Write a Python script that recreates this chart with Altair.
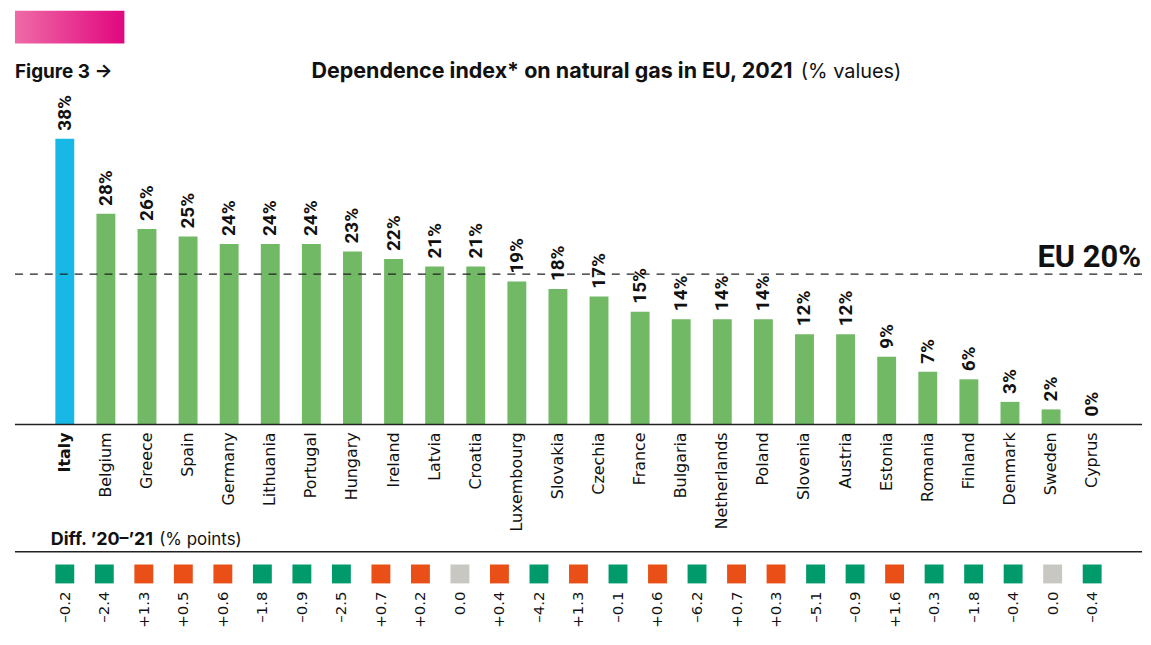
import altair as alt
import pandas as pd

countries = ["Italy", "Belgium", "Greece", "Spain", "Germany", "Lithuania", "Portugal",
             "Hungary", "Ireland", "Latvia", "Croatia", "Luxembourg", "Slovakia", "Czechia",
             "France", "Bulgaria", "Netherlands", "Poland", "Slovenia", "Austria", "Estonia",
             "Romania", "Finland", "Denmark", "Sweden", "Cyprus"]
index_2021 = [38, 28, 26, 25, 24, 24, 24, 23, 22, 21, 21, 19, 18, 17, 15, 14, 14, 14,
              12, 12, 9, 7, 6, 3, 2, 0]
diff_20_21 = [-0.2, -2.4, 1.3, 0.5, 0.6, -1.8, -0.9, -2.5, 0.7, 0.2, 0.0, 0.4, -4.2, 1.3,
              -0.1, 0.6, -6.2, 0.7, 0.3, -5.1, -0.9, 1.6, -0.3, -1.8, -0.4, 0.0, -0.4]
eu_average = 20

W, H = 1133, 619
Y_MIN, Y_MAX = -26.852, 55.026
X_MIN, X_MAX = -1.0917, 26.092

GREEN_BAR = "#72B965"
BLUE = "#17B8E6"
SQ_GREEN = "#009A6B"
SQ_ORANGE = "#E94F16"
SQ_GRAY = "#C8C7C1"
INK = "#111111"

bars_df = pd.DataFrame({"country": countries, "value": index_2021,
                        "idx": list(range(len(countries)))})
bars_df["zero"] = 0
bars_df["lbl"] = [str(v) + "%" for v in index_2021]
bars_df["fill"] = ["Italy" if c == "Italy" else "other" for c in countries]
diff_df = pd.DataFrame({"i": list(range(len(diff_20_21))), "diff": diff_20_21})
diff_df["pos"] = diff_df["i"] * (len(countries) - 1) / (len(diff_20_21) - 1)
diff_df["sign"] = ["pos" if d > 0 else ("neg" if d < 0 else "zero") for d in diff_20_21]
diff_df["lbl"] = [("+%.1f" % d) if d > 0 else (("\u2013%.1f" % -d) if d < 0 else "0.0")
                  for d in diff_20_21]
ref_df = pd.DataFrame({"zero": [0], "eu": [eu_average], "t": ["EU %d%%" % eu_average]})
one = pd.DataFrame({"k": [0]})

xs = alt.Scale(domain=[X_MIN, X_MAX], nice=False, zero=False)
ys = alt.Scale(domain=[Y_MIN, Y_MAX], nice=False)
X = alt.X("idx:Q", scale=xs, axis=None)
Y = alt.Y("value:Q", scale=ys, axis=None)
Y0 = alt.Y("zero:Q", scale=ys, axis=None)

base = alt.Chart(bars_df)

bars = base.mark_bar(width=19).encode(
    x=X, y=Y, y2="zero:Q",
    color=alt.Color("fill:N", scale=alt.Scale(domain=["Italy", "other"],
                                              range=[BLUE, GREEN_BAR]), legend=None),
)

bar_labels = base.mark_text(
    angle=270, align="left", baseline="middle", dx=8,
    font="Roboto", fontSize=19, fontWeight="bold", color=INK,
).encode(x=X, y=Y, text="lbl:N")

country_labels = base.transform_filter("datum.country != 'Italy'").mark_text(
    angle=270, align="right", baseline="middle", dx=-8,
    font="DejaVu Sans", fontSize=16, color=INK,
).encode(x=X, y=Y0, text="country:N")

italy_label = base.transform_filter("datum.country == 'Italy'").mark_text(
    angle=270, align="right", baseline="middle", dx=-8,
    font="DejaVu Sans", fontSize=16, fontWeight="bold", color=INK,
).encode(x=X, y=Y0, text="country:N")

ref = alt.Chart(ref_df)
baseline = ref.mark_rule(color="#222222", strokeWidth=1.5).encode(y=Y0)

eu_rule = ref.mark_rule(color="#222222", strokeWidth=1.2, strokeDash=[8, 7]).encode(
    y=alt.Y("eu:Q", scale=ys, axis=None))

eu_text = ref.mark_text(
    align="right", baseline="alphabetic", dy=-7, font="Roboto", fontSize=31,
    fontWeight="bold", color=INK,
).encode(x=alt.value(W - 1), y=alt.Y("eu:Q", scale=ys, axis=None), text="t:N")

XQ = alt.X("pos:Q", scale=xs, axis=None)
diff_base = alt.Chart(diff_df)
squares = diff_base.mark_square(size=361, filled=True, opacity=1).encode(
    x=XQ,
    y=alt.value(566.3),
    color=alt.Color("sign:N", scale=alt.Scale(domain=["neg", "pos", "zero"],
                                              range=[SQ_GREEN, SQ_ORANGE, SQ_GRAY]), legend=None),
)
diff_labels = diff_base.mark_text(
    angle=270, align="right", baseline="middle", dx=-17.7,
    font="DejaVu Sans", fontSize=15, color=INK,
).encode(x=XQ, y=alt.value(566.3), text="lbl:N")

diff_rule = alt.Chart(one).mark_rule(color="#222222", strokeWidth=1.5).encode(
    x=alt.value(0), x2=alt.value(W), y=alt.value(544))

badge = alt.Chart(one).mark_rect(
    fill=alt.LinearGradient(
        gradient="linear",
        stops=[alt.GradientStop(color="#EF6BA6", offset=0),
               alt.GradientStop(color="#E0077F", offset=1)],
        x1=0, x2=1, y1=0, y2=0),
).encode(x=alt.value(0), x2=alt.value(110), y=alt.value(0), y2=alt.value(33))


def txt(s, x, y, size, weight="normal", font="Inter"):
    return alt.Chart(one).mark_text(
        align="left", baseline="alphabetic", font=font, fontSize=size,
        fontWeight=weight, color=INK, text=s,
    ).encode(x=alt.value(x), y=alt.value(y))


fig_label = txt("Figure 3 \u2192", 0, 68, 19, "bold")
title_bold = txt("Dependence index* on natural gas in EU, 2021", 298, 68, 21.6, "bold")
title_reg = txt("(% values)", 790, 68, 20, "normal")
diff_title_b = txt("Diff. \u201920\u2013\u201921", 36, 537, 18, "bold")
diff_title_r = txt("(% points)", 145, 537, 17, "normal")

chart = alt.layer(
    bars, baseline, eu_rule, eu_text, bar_labels, country_labels, italy_label,
    squares, diff_labels, diff_rule, badge,
    fig_label, title_bold, title_reg, diff_title_b, diff_title_r,
).resolve_scale(color="independent").properties(
    width=W, height=H,
    padding={"left": 6, "top": 1, "right": 0, "bottom": 0},
).configure_view(stroke=None)

chart.save("out.html", embed_options={"renderer": "svg", "actions": False})
